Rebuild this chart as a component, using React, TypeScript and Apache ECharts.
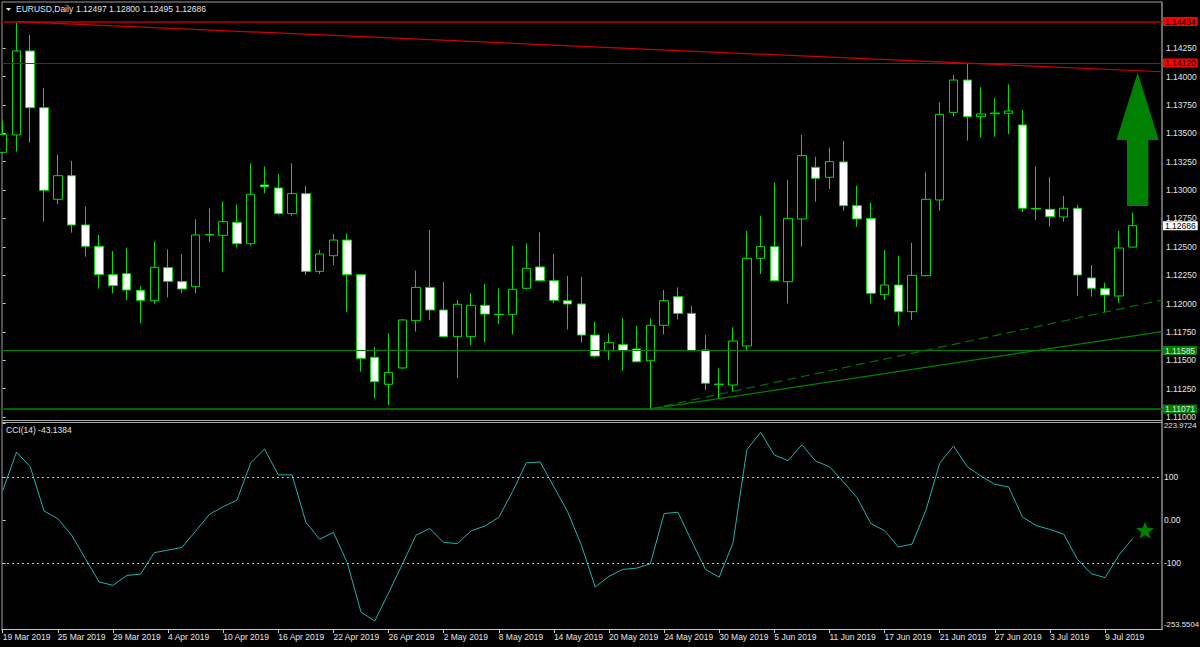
import React, { useEffect, useRef } from "react";
import * as echarts from "echarts";

const symbolName = "EURUSD";
const timeframe = "Daily";
const cciPeriod = 14;

const dates = [
  "19 Mar 2019", "20 Mar 2019", "21 Mar 2019", "22 Mar 2019", "25 Mar 2019", "26 Mar 2019", "27 Mar 2019", "28 Mar 2019", "29 Mar 2019",
  "1 Apr 2019", "2 Apr 2019", "3 Apr 2019", "4 Apr 2019", "5 Apr 2019", "8 Apr 2019", "9 Apr 2019", "10 Apr 2019", "11 Apr 2019", "12 Apr 2019",
  "15 Apr 2019", "16 Apr 2019", "17 Apr 2019", "18 Apr 2019", "19 Apr 2019", "22 Apr 2019", "23 Apr 2019", "24 Apr 2019", "25 Apr 2019", "26 Apr 2019",
  "29 Apr 2019", "30 Apr 2019",
  "1 May 2019", "2 May 2019", "3 May 2019", "6 May 2019", "7 May 2019", "8 May 2019", "9 May 2019", "10 May 2019", "13 May 2019", "14 May 2019",
  "15 May 2019", "16 May 2019", "17 May 2019", "20 May 2019", "21 May 2019", "22 May 2019", "23 May 2019", "24 May 2019", "27 May 2019", "28 May 2019",
  "29 May 2019", "30 May 2019", "31 May 2019",
  "3 Jun 2019", "4 Jun 2019", "5 Jun 2019", "6 Jun 2019", "7 Jun 2019", "10 Jun 2019", "11 Jun 2019", "12 Jun 2019", "13 Jun 2019", "14 Jun 2019",
  "17 Jun 2019", "18 Jun 2019", "19 Jun 2019", "20 Jun 2019", "21 Jun 2019", "24 Jun 2019", "25 Jun 2019", "26 Jun 2019", "27 Jun 2019", "28 Jun 2019",
  "1 Jul 2019", "2 Jul 2019", "3 Jul 2019", "4 Jul 2019", "5 Jul 2019", "8 Jul 2019", "9 Jul 2019", "10 Jul 2019", "11 Jul 2019",
];

const opens = [
  1.13332, 1.13485, 1.14225, 1.13725, 1.12918, 1.13126, 1.12692, 1.12504, 1.12254, 1.12263,
  1.12116, 1.12025, 1.12316, 1.12193, 1.12148, 1.12604, 1.12601, 1.12715, 1.12527, 1.13044,
  1.13018, 1.12792, 1.12968, 1.12283, 1.12421, 1.12559, 1.12254, 1.11526, 1.11288, 1.11432,
  1.11849, 1.12142, 1.11943, 1.11708, 1.11708, 1.11984, 1.11905, 1.11905, 1.12134, 1.12322,
  1.12201, 1.12025, 1.11996, 1.11722, 1.11584, 1.11637, 1.11599, 1.11496, 1.11808, 1.12060,
  1.11913, 1.11590, 1.11285, 1.11282, 1.11626, 1.12398, 1.12501, 1.12192, 1.12745, 1.13200,
  1.13112, 1.13247, 1.12862, 1.12748, 1.12078, 1.12163, 1.11928, 1.12245, 1.12912, 1.13684,
  1.13969, 1.13646, 1.13672, 1.13676, 1.13573, 1.12838, 1.12830, 1.12762, 1.12839, 1.12225,
  1.12131, 1.12066, 1.12497,
];
const highs = [
  1.13611, 1.14484, 1.14366, 1.13899, 1.13311, 1.13256, 1.12853, 1.12604, 1.12463, 1.12492,
  1.12154, 1.12545, 1.12477, 1.12436, 1.12742, 1.12838, 1.12900, 1.12871, 1.13235, 1.13206,
  1.13141, 1.13235, 1.13038, 1.12471, 1.12612, 1.12618, 1.12260, 1.11620, 1.11737, 1.11862,
  1.12289, 1.12648, 1.12189, 1.12031, 1.12090, 1.12172, 1.12134, 1.12507, 1.12530, 1.12627,
  1.12436, 1.12242, 1.12236, 1.11840, 1.11737, 1.11875, 1.11802, 1.11869, 1.12119, 1.12142,
  1.11981, 1.11722, 1.11429, 1.11790, 1.12639, 1.12771, 1.13065, 1.13088, 1.13485, 1.13294,
  1.13373, 1.13432, 1.13038, 1.12888, 1.12471, 1.12421, 1.12536, 1.13156, 1.13772, 1.14013,
  1.14116, 1.13905, 1.13808, 1.13931, 1.13705, 1.13206, 1.13112, 1.12947, 1.12868, 1.12339,
  1.12184, 1.12639, 1.12800,
];
const lows = [
  1.13320, 1.13338, 1.13417, 1.12721, 1.12877, 1.12624, 1.12413, 1.12131, 1.12090, 1.12031,
  1.11825, 1.11996, 1.12054, 1.12090, 1.12090, 1.12539, 1.12280, 1.12495, 1.12510, 1.12971,
  1.12780, 1.12774, 1.12251, 1.12260, 1.12339, 1.11925, 1.11399, 1.11164, 1.11106, 1.11425,
  1.11752, 1.11855, 1.11702, 1.11341, 1.11634, 1.11658, 1.11819, 1.11728, 1.12125, 1.12195,
  1.12001, 1.11772, 1.11655, 1.11526, 1.11502, 1.11408, 1.11481, 1.11071, 1.11728, 1.11861,
  1.11580, 1.11238, 1.11156, 1.11223, 1.11584, 1.12260, 1.12192, 1.12001, 1.12501, 1.12897,
  1.13009, 1.12818, 1.12677, 1.12001, 1.12031, 1.11805, 1.11855, 1.12240, 1.12818, 1.13646,
  1.13435, 1.13464, 1.13470, 1.13493, 1.12806, 1.12736, 1.12677, 1.12721, 1.12066, 1.12060,
  1.11925, 1.12007, 1.12495,
];
const closes = [
  1.13490, 1.14225, 1.13725, 1.12997, 1.13126, 1.12692, 1.12504, 1.12254, 1.12157, 1.12119,
  1.12028, 1.12319, 1.12195, 1.12128, 1.12604, 1.12608, 1.12721, 1.12527, 1.12962, 1.13029,
  1.12792, 1.12968, 1.12283, 1.12436, 1.12559, 1.12254, 1.11517, 1.11311, 1.11391, 1.11855,
  1.12142, 1.11943, 1.11708, 1.11993, 1.11984, 1.11907, 1.11902, 1.12125, 1.12310, 1.12201,
  1.12028, 1.11996, 1.11722, 1.11537, 1.11655, 1.11584, 1.11487, 1.11808, 1.12025, 1.11913,
  1.11584, 1.11297, 1.11290, 1.11670, 1.12398, 1.12501, 1.12201, 1.12750, 1.13303, 1.13103,
  1.13250, 1.12862, 1.12745, 1.12090, 1.12163, 1.11928, 1.12248, 1.12918, 1.13667, 1.13969,
  1.13646, 1.13670, 1.13678, 1.13696, 1.12839, 1.12833, 1.12765, 1.12839, 1.12251, 1.12134,
  1.12075, 1.12489, 1.12686,
];

const cciValues = [
  68, 158, 124, 21, 3, -35, -90, -144, -152, -129,
  -126, -76, -70, -64, -26, 13, 31, 46, 133, 165,
  105, 105, -5, -45, -29, -99, -214, -235, -170, -103,
  -35, -20, -52, -55, -25, -14, 6, 66, 133, 135,
  77, 19, -59, -156, -131, -115, -112, -102, 15, 18,
  -49, -115, -133, -53, 163, 204, 151, 138, 175, 137,
  124, 89, 52, -8, -25, -63, -56, 23, 132, 172,
  124, 102, 83, 77, 7, -13, -22, -33, -92, -125,
  -134, -82, -43.1384,
];

const dateTickIndices = [0, 4, 8, 12, 16, 20, 24, 28, 32, 36, 40, 44, 48, 52, 56, 60, 64, 68, 72, 76, 80];
const priceTicks = [1.11, 1.1125, 1.115, 1.1175, 1.12, 1.1225, 1.125, 1.1275, 1.13, 1.1325, 1.135, 1.1375, 1.14, 1.1425];
const cciTicks = [-253.5504, -100, 0, 100, 223.9724];
const cciLevels = [100, -100];

const priceRange = [1.109824, 1.146564];
const cciRange = [-253.5504, 223.9724];
const barRange = [-0.05, 84.13];

const resistanceLevels = [1.14484, 1.1412];
const supportLevels = [1.11585, 1.11071];
const resistanceTrend = [[1, 1.14484], [84.13, 1.14042]];
const supportTrend = [[47, 1.11071], [84.13, 1.11752]];
const supportTrendDashed = [[47, 1.11071], [84.13, 1.12031]];

const FONT = "'Liberation Sans', Arial, sans-serif";
const TXT = "#E4E4E4";

function starPoints(cx: number, cy: number, R: number, r: number) {
  const pts: number[][] = [];
  for (let k = 0; k < 10; k++) {
    const ang = -Math.PI / 2 + (k * Math.PI) / 5;
    const rad = k % 2 === 0 ? R : r;
    pts.push([cx + rad * Math.cos(ang), cy + rad * Math.sin(ang)]);
  }
  return pts;
}

export default function App() {
  const ref = useRef<HTMLDivElement>(null);

  useEffect(() => {
    document.body.style.margin = "0";
    document.body.style.background = "#000";
    const chart = echarts.init(ref.current!, null, { renderer: "svg" });
    const n = dates.length;
    const candleData = dates.map((_, i) => [i, opens[i], closes[i], lows[i], highs[i]]);
    const cciData = cciValues.map((v, i) => [i, v]);
    const last = n - 1;
    const headerValues = [opens[last], highs[last], lows[last], closes[last]].map((v) => v.toFixed(5)).join(" ");

    const levelLabel = (bg: string, fg: string) => ({
      show: true,
      position: "end",
      distance: 1,
      formatter: (p: any) => Number(p.value).toFixed(5),
      backgroundColor: bg,
      color: fg,
      fontSize: 8.5,
      fontFamily: FONT,
      lineHeight: 8,
      padding: [1, 2, 0, 2],
    });

    const option: any = {
      animation: false,
      backgroundColor: "#000000",
      grid: [
        { left: 2, top: 2, width: 1160, height: 417, outerBoundsMode: "none" },
        { left: 2, top: 423.7, width: 1160, height: 205.3, outerBoundsMode: "none" },
      ],
      xAxis: [
        { type: "value", gridIndex: 0, min: barRange[0], max: barRange[1], show: false, splitLine: { show: false } },
        {
          type: "value",
          gridIndex: 1,
          min: barRange[0],
          max: barRange[1],
          position: "bottom",
          splitLine: { show: false },
          axisLine: { show: true, onZero: false, lineStyle: { color: "#C8C8C8", width: 1 } },
          axisTick: { show: true, length: 4, customValues: dateTickIndices, lineStyle: { color: "#C8C8C8" } },
          axisLabel: {
            customValues: dateTickIndices,
            formatter: (v: number) => dates[Math.round(v)] ?? "",
            align: "left",
            margin: 3,
            color: TXT,
            fontSize: 8.5,
            fontFamily: FONT,
          },
        },
      ],
      yAxis: [
        {
          type: "value",
          gridIndex: 0,
          position: "right",
          min: priceRange[0],
          max: priceRange[1],
          splitLine: { show: false },
          axisLine: { show: false },
          axisTick: { show: true, length: 3, customValues: priceTicks, lineStyle: { color: "#C8C8C8" } },
          axisLabel: {
            customValues: priceTicks,
            formatter: (v: number) => v.toFixed(5),
            margin: 4,
            color: TXT,
            fontSize: 8.5,
            lineHeight: 7,
            fontFamily: FONT,
          },
        },
        {
          type: "value",
          gridIndex: 1,
          position: "right",
          min: cciRange[0],
          max: cciRange[1],
          splitLine: { show: false },
          axisLine: { show: false },
          axisTick: { show: true, length: 3, customValues: cciTicks, lineStyle: { color: "#C8C8C8" } },
          axisLabel: {
            customValues: cciTicks,
            formatter: (v: number) => {
              if (v === cciRange[1]) return "{top|" + v.toFixed(4) + "}";
              if (v === cciRange[0]) return "{bot|" + v.toFixed(4) + "}";
              if (v === 0) return "0.00";
              return String(v);
            },
            rich: {
              top: { padding: [3, 0, 0, 0], color: TXT, fontSize: 7.8, fontFamily: FONT },
              bot: { padding: [0, 0, 10, 0], color: TXT, fontSize: 7.8, fontFamily: FONT },
            },
            margin: 2,
            color: TXT,
            fontSize: 8.5,
            fontFamily: FONT,
          },
        },
      ],
      series: [
        {
          type: "candlestick",
          xAxisIndex: 0,
          yAxisIndex: 0,
          encode: { x: 0, y: [1, 2, 3, 4] },
          barWidth: 9,
          clip: true,
          data: candleData,
          itemStyle: {
            color: "#000000",
            color0: "#FFFFFF",
            borderColor: "#00E000",
            borderColor0: "#00E000",
            borderWidth: 1,
          },
          markLine: {
            silent: true,
            precision: 5,
            symbol: ["none", "none"],
            animation: false,
            data: [
              { yAxis: resistanceLevels[0], lineStyle: { color: "#8B0000", width: 2, type: "solid" }, label: levelLabel("#FF0000", "#000000") },
              { yAxis: resistanceLevels[1], lineStyle: { color: "#C00000", width: 1, type: "solid" }, label: levelLabel("#FF0000", "#000000") },
              { yAxis: supportLevels[0], lineStyle: { color: "#008000", width: 1, type: "solid" }, label: levelLabel("#008000", "#E8E8E8") },
              { yAxis: supportLevels[1], lineStyle: { color: "#006400", width: 2, type: "solid" }, label: levelLabel("#008000", "#E8E8E8") },
              { yAxis: closes[last], lineStyle: { color: "rgba(0,0,0,0)", width: 1 }, label: levelLabel("#FFFFFF", "#000000") },
              [
                { coord: resistanceTrend[0], lineStyle: { color: "#D00000", width: 1.2, type: "solid" }, label: { show: false } },
                { coord: resistanceTrend[1] },
              ],
              [
                { coord: supportTrend[0], lineStyle: { color: "#008000", width: 1.2, type: "solid" }, label: { show: false } },
                { coord: supportTrend[1] },
              ],
              [
                { coord: supportTrendDashed[0], lineStyle: { color: "#007000", width: 1.2, type: [9, 5] }, label: { show: false } },
                { coord: supportTrendDashed[1] },
              ],
            ],
          },
        },
        {
          type: "line",
          xAxisIndex: 1,
          yAxisIndex: 1,
          data: cciData,
          showSymbol: false,
          clip: true,
          lineStyle: { color: "#20B2AA", width: 1 },
          markLine: {
            silent: true,
            symbol: ["none", "none"],
            label: { show: false },
            lineStyle: { color: "#C0C0C0", width: 1, type: [2, 3] },
            data: cciLevels.map((v) => ({ yAxis: v })),
          },
        },
      ],
      graphic: [
        { type: "line", shape: { x1: 2, y1: 2, x2: 1162, y2: 2 }, style: { stroke: "#9A9A9A", lineWidth: 1 }, silent: true },
        { type: "line", shape: { x1: 2, y1: 2, x2: 2, y2: 630 }, style: { stroke: "#9A9A9A", lineWidth: 1 }, silent: true },
        { type: "line", shape: { x1: 2, y1: 420.5, x2: 1162, y2: 420.5 }, style: { stroke: "#A8A8A8", lineWidth: 1 }, silent: true },
        { type: "line", shape: { x1: 2, y1: 422.5, x2: 1162, y2: 422.5 }, style: { stroke: "#A8A8A8", lineWidth: 1 }, silent: true },
        { type: "line", shape: { x1: 1162, y1: 2, x2: 1162, y2: 630 }, style: { stroke: "#D0D0D0", lineWidth: 1 }, silent: true },
        { type: "polygon", shape: { points: [[6, 8], [11, 8], [8.5, 11]] }, style: { fill: TXT }, silent: true },
        {
          type: "text",
          x: 16,
          y: 9,
          style: { text: `${symbolName},${timeframe}`, fill: TXT, fontSize: 8.5, fontFamily: FONT, verticalAlign: "middle" },
          silent: true,
        },
        {
          type: "text",
          x: 76,
          y: 9,
          style: { text: headerValues, fill: TXT, fontSize: 8.5, fontFamily: FONT, verticalAlign: "middle" },
          silent: true,
        },
        {
          type: "text",
          x: 6,
          y: 430,
          style: { text: `CCI(${cciPeriod}) ${cciValues[last].toFixed(4)}`, fill: TXT, fontSize: 8.5, fontFamily: FONT, verticalAlign: "middle" },
          silent: true,
        },
        {
          type: "polygon",
          shape: { points: [[1137.7, 72.5], [1116.5, 140], [1127, 140], [1127, 206], [1148.3, 206], [1148.3, 140], [1158.7, 140]] },
          style: { fill: "#008000" },
          silent: true,
        },
        { type: "polygon", shape: { points: starPoints(1145, 531, 9.5, 3.9) }, style: { fill: "#008000" }, silent: true },
      ],
    };
    chart.setOption(option);
    return () => chart.dispose();
  }, []);

  return <div ref={ref} style={{ position: "fixed", left: 0, top: 0, width: 1200, height: 647 }} />;
}
